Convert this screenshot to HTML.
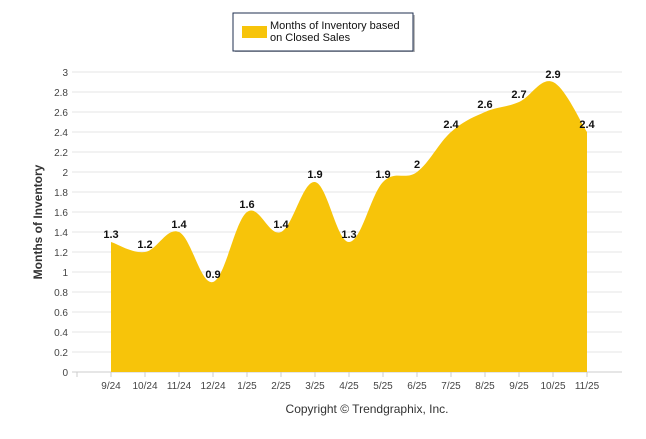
<!DOCTYPE html>
<html><head><meta charset="utf-8"><style>
body{margin:0;background:#fff;font-family:"Liberation Sans",Arial,sans-serif}
svg text{font-family:"Liberation Sans",Arial,sans-serif}
</style></head><body>
<svg id="c" width="646" height="434">
<g>
<rect x="235" y="15" width="180" height="37" fill="#555" opacity="0.4"/>
<rect x="233" y="13" width="180" height="38" fill="#fff" stroke="#1f2f4f" stroke-width="1"/>
<rect x="242" y="26" width="25" height="12" fill="#f7c40a"/>
<text x="270" y="29" font-size="11" fill="#111">Months of Inventory based</text>
<text x="270" y="41" font-size="11" fill="#111">on Closed Sales</text>
</g>
<text transform="translate(42,222) rotate(-90)" text-anchor="middle" font-size="12" font-weight="bold" fill="#333">Months of Inventory</text>
<text x="367" y="413" text-anchor="middle" font-size="12" fill="#333">Copyright © Trendgraphix, Inc.</text>
<g id="grid"></g><g id="area"></g><g id="labels"></g>
</svg>
<script>
const categories=["9/24","10/24","11/24","12/24","1/25","2/25","3/25","4/25","5/25","6/25","7/25","8/25","9/25","10/25","11/25"];
const values=[1.3,1.2,1.4,0.9,1.6,1.4,1.9,1.3,1.9,2,2.4,2.6,2.7,2.9,2.4];
const yTicks=[0,0.2,0.4,0.6,0.8,1,1.2,1.4,1.6,1.8,2,2.2,2.4,2.6,2.8,3];
const NS="http://www.w3.org/2000/svg";
const x=i=>111+i*34, y=v=>372-v*100;
function mk(t,a,p){const e=document.createElementNS(NS,t);for(const k in a)e.setAttribute(k,a[k]);p.appendChild(e);return e;}
const g=document.getElementById('grid');
yTicks.forEach(t=>{
 const l=mk('line',{x1:72,x2:622,y1:y(t),y2:y(t),stroke:t===0?'#ccc':'#e6e6e6'},g);
 
 
 const tx=mk('text',{x:68,y:y(t)+4,'text-anchor':'end','font-size':10,fill:'#444'},g);tx.textContent=t;
 
 
});
mk('line',{x1:77,x2:77,y1:372,y2:377,stroke:'#ccc'},g);
categories.forEach((c,i)=>{
 mk('line',{x1:x(i),x2:x(i),y1:372,y2:377,stroke:'#ccc'},g);
 const tx=mk('text',{x:x(i),y:389,'text-anchor':'middle','font-size':10,fill:'#444'},g);tx.textContent=c;
 
 
});
const P=values.map((v,i)=>[x(i),y(v)]);
let d=`M${P[0][0]},372L${P[0][0]},${P[0][1]}`;
for(let i=0;i<P.length-1;i++){
 const p0=P[Math.max(i-1,0)],p1=P[i],p2=P[i+1],p3=P[Math.min(i+2,P.length-1)];
 const t=0.18;
 d+=`C${p1[0]+(p2[0]-p0[0])*t},${p1[1]+(p2[1]-p0[1])*t} ${p2[0]-(p3[0]-p1[0])*t},${p2[1]-(p3[1]-p1[1])*t} ${p2[0]},${p2[1]}`;
}
d+=`L${P[P.length-1][0]},372Z`;
const a=mk('path',{d:d,fill:'#f7c40a'},document.getElementById('area'));


const L=document.getElementById('labels');
values.forEach((v,i)=>{
 const tx=mk('text',{x:x(i),y:y(v)-4,'text-anchor':'middle','font-size':11,'font-weight':'bold',fill:'#111'},L);tx.textContent=v;
 
 
});
</script>
</body></html>
